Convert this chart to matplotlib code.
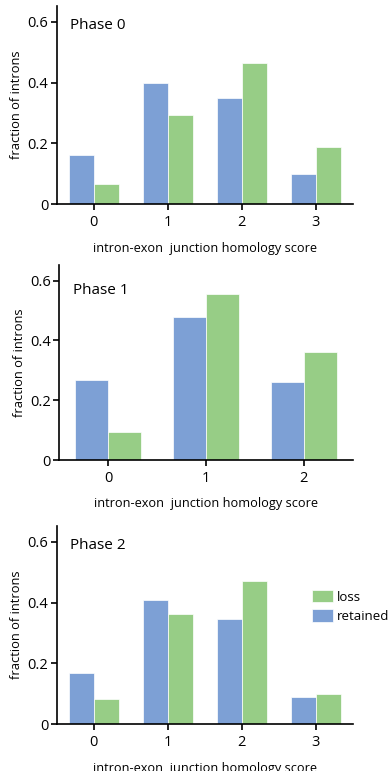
import matplotlib
matplotlib.use("Agg")
import matplotlib.pyplot as plt
import numpy as np

plt.rcParams['font.family'] = ['Open Sans', 'DejaVu Sans']

# fraction of introns per homology score, for each phase
scores_0 = [0, 1, 2, 3]
retained_0 = [0.163, 0.400, 0.350, 0.100]
loss_0 = [0.067, 0.293, 0.463, 0.190]

scores_1 = [0, 1, 2]
retained_1 = [0.269, 0.479, 0.261]
loss_1 = [0.093, 0.554, 0.362]

scores_2 = [0, 1, 2, 3]
retained_2 = [0.168, 0.410, 0.347, 0.090]
loss_2 = [0.083, 0.362, 0.470, 0.100]

phases = ["Phase 0", "Phase 1", "Phase 2"]
y_ticks = [0, 0.2, 0.4, 0.6]
y_tick_labels = ["0", "0.2", "0.4", "0.6"]

blue = "#7DA0D5"
green = "#97CD86"

W, H = 389, 771
fig = plt.figure(figsize=(W / 100, H / 100), dpi=100)

# axes boxes in pixels: left, right, top, bottom
boxes = [(56.7, 352.7, 6, 204.3), (59.3, 352.7, 265, 460), (56.7, 352.7, 526, 724.3)]
data = [(scores_0, retained_0, loss_0), (scores_1, retained_1, loss_1), (scores_2, retained_2, loss_2)]
# vertical position of the phase title (axes fraction)
title_y = [0.9, 0.87, 0.9]

width = 0.34
for i, ((l, r, t, b), (sc, ret, los)) in enumerate(zip(boxes, data)):
    ax = fig.add_axes([l / W, 1 - b / H, (r - l) / W, (b - t) / H])
    x = np.arange(len(sc))
    ax.bar(x - width / 2, ret, width, color=blue, edgecolor="white", linewidth=0.5, label="retained")
    ax.bar(x + width / 2, los, width, color=green, edgecolor="white", linewidth=0.5, label="loss")
    ax.set_xlim(-0.5, len(sc) - 0.5)
    ax.set_ylim(0, 0.652)
    ax.set_xticks(x)
    ax.set_xticklabels([str(s) for s in sc], fontsize=10.5)
    ax.set_yticks(y_ticks)
    ax.set_yticklabels(y_tick_labels, fontsize=10.5)
    for side in ["top", "right"]:
        ax.spines[side].set_visible(False)
    for side in ["left", "bottom"]:
        ax.spines[side].set_linewidth(1.2)
    ax.tick_params(axis="y", length=4, width=1.2, pad=2)
    ax.tick_params(axis="x", length=4, width=1.2, pad=4)
    ax.set_xlabel("intron-exon  junction homology score", fontsize=9.2, labelpad=8)
    ax.set_ylabel("fraction of introns", fontsize=9.3, labelpad=3)
    ax.text(0.045, title_y[i], phases[i], transform=ax.transAxes,
            fontsize=11, va="center", ha="left")
    if i == 2:
        handles, labels = ax.get_legend_handles_labels()
        ax.legend(handles[::-1], labels[::-1], loc="upper left", bbox_to_anchor=(0.845, 0.705),
                  frameon=False, fontsize=9.5, handlelength=1.6, handleheight=1.1,
                  handletextpad=0.3, borderaxespad=0, labelspacing=0.4)

fig.savefig("out.png", dpi=100)
